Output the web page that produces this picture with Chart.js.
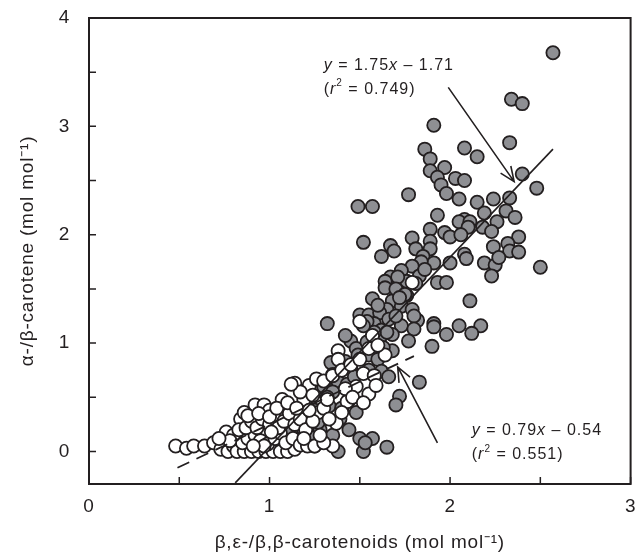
<!DOCTYPE html>
<html>
<head>
<meta charset="utf-8">
<script src="https://cdn.jsdelivr.net/npm/chart.js@4"></script>
<style>
  html, body { margin: 0; padding: 0; background: #fff; }
  #wrap { width: 639px; height: 556px; }
</style>
</head>
<body>
<div id="wrap"><canvas id="carChart" width="639" height="556"></canvas></div>
<script>
// x = β,ε-/β,β-carotenoids, y = α-/β-carotene  (mol mol-1)
var grayPoints = [
  [2.57,3.68],[2.34,3.25],[2.40,3.21],[1.91,3.01],[2.33,2.85],[1.86,2.79],[2.08,2.80],[2.15,2.72],
  [1.89,2.70],[1.89,2.59],[1.97,2.62],[1.93,2.53],[2.03,2.52],[2.08,2.50],[1.95,2.46],[2.40,2.56],
  [2.48,2.43],[1.98,2.38],[1.77,2.37],[2.05,2.33],[2.24,2.33],[2.33,2.34],[2.15,2.30],[1.49,2.26],
  [1.57,2.26],[2.19,2.20],[2.31,2.22],[2.36,2.16],[1.93,2.18],[2.08,2.14],[2.05,2.12],[2.11,2.12],
  [2.26,2.12],[2.10,2.07],[2.18,2.07],[1.89,2.05],[1.79,1.97],[1.97,2.02],[2.00,1.98],[2.06,2.00],
  [2.38,1.98],[2.23,2.03],[1.52,1.93],[1.89,1.94],[1.81,1.87],[1.89,1.87],[1.67,1.90],[1.69,1.85],
  [2.24,1.89],[2.32,1.92],[2.33,1.85],[2.38,1.84],[2.08,1.82],[2.09,1.78],[1.85,1.80],[1.91,1.74],
  [1.84,1.75],[1.62,1.80],[2.00,1.74],[2.19,1.74],[2.25,1.72],[2.27,1.79],[2.50,1.70],[2.23,1.62],
  [1.79,1.71],[1.73,1.67],[1.76,1.57],[1.67,1.61],[1.64,1.57],[1.71,1.61],[1.93,1.56],[1.98,1.56],
  [1.64,1.51],[2.11,1.39],[1.57,1.41],[1.68,1.39],[1.76,1.44],[1.73,1.34],[1.65,1.31],[1.79,1.31],
  [1.82,1.21],[1.80,1.25],[1.50,1.26],[1.55,1.26],[1.61,1.28],[1.32,1.18],[1.91,1.18],[1.91,1.15],
  [2.05,1.16],[2.17,1.16],[1.98,1.08],[2.12,1.09],[1.73,1.16],[1.80,1.13],[1.77,1.02],[1.90,0.97],
  [1.68,0.93],[1.70,1.50],[1.75,1.45],[1.83,1.62],[1.86,1.68],[1.81,1.55],[1.72,1.42],[1.60,1.35],
  [1.66,1.22],[1.70,1.25],[1.58,1.18],[1.62,1.12],[1.68,1.08],[1.54,1.20],
  [1.45,1.02],[1.42,1.07],[1.48,0.95],[1.49,0.89],[1.55,0.89],[1.54,1.01],[1.61,1.04],[1.63,0.96],
  [1.65,1.10],[1.58,1.10],[1.52,1.16],[1.38,0.85],[1.34,0.82],[1.42,0.83],[1.45,0.77],[1.35,0.71],
  [1.38,0.64],[1.43,0.62],[1.47,0.69],[1.55,0.75],[1.60,0.85],[1.62,0.74],[1.66,0.69],[1.83,0.64],
  [1.72,0.51],[1.70,0.43],[1.44,0.47],[1.48,0.36],[1.44,0.20],[1.50,0.12],[1.57,0.12],[1.65,0.04],
  [1.38,0.00],[1.52,0.00],[1.53,0.08],[1.30,0.33],[1.28,0.20],[1.33,0.42],[1.26,0.56],[1.30,0.60],
  [1.35,0.55],[1.40,0.40],[1.39,0.30],[1.32,0.50],[1.22,0.45],[1.20,0.30],[1.18,0.22],[1.15,0.28],
  [1.12,0.20],[1.25,0.38],[1.27,0.27],[1.23,0.13],[1.10,0.10],[1.30,0.10],[1.35,0.15],[1.25,0.05]
];
var whitePoints = [
  [0.48,0.05],[0.54,0.03],[0.58,0.05],[0.64,0.05],[0.69,0.08],[0.75,0.11],[0.76,0.18],[0.73,0.02],
  [0.77,0.00],[0.80,0.05],[0.84,0.30],[0.86,0.36],[0.92,0.43],[0.97,0.43],[1.00,0.38],[1.07,0.48],
  [1.14,0.63],[1.19,0.48],[1.22,0.61],[1.26,0.67],[1.27,0.36],[1.37,0.26],[1.35,0.05],[1.43,0.46],
  [1.38,0.93],[1.38,0.85],[1.50,1.20],[1.57,1.07],[1.52,0.72],[1.58,0.70],[1.55,0.53],[1.59,0.61],
  [1.64,0.89],[1.79,1.56],
  [0.82,0.00],[0.86,0.00],[0.90,0.00],[0.94,0.00],[0.98,0.00],[1.02,0.00],[1.06,0.00],[1.10,0.00],
  [1.14,0.02],[0.85,0.08],[0.88,0.12],[0.92,0.15],[0.95,0.10],[0.99,0.07],[1.03,0.12],[1.06,0.17],
  [1.09,0.08],[1.13,0.12],[1.17,0.06],[1.21,0.05],[1.25,0.05],[1.30,0.08],[0.80,0.15],[0.83,0.20],
  [0.87,0.22],[0.90,0.28],[0.93,0.22],[0.96,0.30],[1.00,0.25],[1.03,0.30],[1.05,0.22],[1.08,0.28],
  [1.11,0.35],[1.14,0.25],[1.17,0.30],[1.20,0.20],[1.24,0.28],[0.88,0.33],[0.94,0.35],[1.00,0.32],
  [1.04,0.40],[1.10,0.45],[1.15,0.40],[1.22,0.38],[1.30,0.40],[1.33,0.30],[1.40,0.36],[1.17,0.55],
  [1.12,0.62],[1.24,0.52],[1.30,0.65],[1.35,0.70],[1.40,0.75],[1.45,0.80],[1.48,0.60],[1.50,0.85],
  [1.55,0.95],[1.60,0.98],[1.42,0.58],[1.46,0.50],[1.52,0.45],[1.32,0.48],[0.97,0.05],[1.01,0.18],
  [0.91,0.05],[1.19,0.12],[1.28,0.15],[0.78,0.10],[0.72,0.12]
];
// fitted lines, end points
var grayFit = [[0.81,-0.29],[2.57,2.79]];
var whiteFit = [[0.49,-0.15],[1.80,0.88]];

var xTicks = [0, 0.5, 1, 1.5, 2, 2.5, 3];
var yTicks = [0, 0.5, 1, 1.5, 2, 2.5, 3, 3.5, 4];

var grayEq = ["y = 1.75x \u2013 1.71", "(r2 = 0.749)"];
var whiteEq = ["y = 0.79x \u2013 0.54", "(r2 = 0.551)"];

function toXY(arr) {
  return arr.map(function (p) { return { x: p[0], y: p[1] }; });
}

var FONT = "'Liberation Sans', Arial, sans-serif";

// wider tracking for all text, like the printed figure
var spacingPlugin = {
  id: 'spacing',
  beforeDraw: function (chart) { chart.ctx.letterSpacing = '0.8px'; }
};

// box, inward ticks, arrows and equations
var decorPlugin = {
  id: 'decor',
  afterDatasetsDraw: function (chart) {
    var ctx = chart.ctx, a = chart.chartArea;
    var xs = chart.scales.x, ys = chart.scales.y;
    ctx.save();
    ctx.strokeStyle = '#231f20';
    ctx.lineWidth = 2;
    ctx.strokeRect(a.left, a.top, a.right - a.left, a.bottom - a.top);
    ctx.lineWidth = 1.5;
    ctx.beginPath();
    xTicks.forEach(function (v) {
      var px = xs.getPixelForValue(v);
      ctx.moveTo(px, a.bottom); ctx.lineTo(px, a.bottom - 7);
    });
    yTicks.forEach(function (v) {
      var py = ys.getPixelForValue(v);
      ctx.moveTo(a.left, py); ctx.lineTo(a.left + 7, py);
    });
    ctx.stroke();

    function arrow(x0, y0, x1, y1) {
      var p0x = xs.getPixelForValue(x0), p0y = ys.getPixelForValue(y0);
      var p1x = xs.getPixelForValue(x1), p1y = ys.getPixelForValue(y1);
      var ang = Math.atan2(p1y - p0y, p1x - p0x);
      ctx.beginPath();
      ctx.moveTo(p0x, p0y); ctx.lineTo(p1x, p1y);
      ctx.moveTo(p1x - 16 * Math.cos(ang - 0.4), p1y - 16 * Math.sin(ang - 0.4));
      ctx.lineTo(p1x, p1y);
      ctx.lineTo(p1x - 16 * Math.cos(ang + 0.4), p1y - 16 * Math.sin(ang + 0.4));
      ctx.stroke();
    }
    ctx.lineWidth = 1.6;
    arrow(1.99, 3.36, 2.355, 2.49);
    arrow(1.93, 0.08, 1.71, 0.78);

    function eq(lines, x, y) {
      var px = xs.getPixelForValue(x), py = ys.getPixelForValue(y);
      ctx.fillStyle = '#231f20';
      ctx.textBaseline = 'middle';
      ctx.textAlign = 'left';
      ctx.letterSpacing = '1px';
      var l1 = lines[0];
      var parts = [['y', true], [l1.slice(1, l1.indexOf('x')), false], ['x', true], [l1.slice(l1.indexOf('x') + 1), false]];
      var cx = px;
      parts.forEach(function (pt) {
        ctx.font = (pt[1] ? 'italic ' : '') + '16px ' + FONT;
        ctx.fillText(pt[0], cx, py);
        cx += ctx.measureText(pt[0]).width;
      });
      var l2 = lines[1];
      var py2 = py + 24;
      cx = px;
      ctx.font = '16px ' + FONT;
      ctx.fillText('(', cx, py2); cx += ctx.measureText('(').width;
      ctx.font = 'italic 16px ' + FONT;
      ctx.fillText('r', cx, py2); cx += ctx.measureText('r').width;
      ctx.font = '10px ' + FONT;
      ctx.fillText('2', cx, py2 - 6); cx += ctx.measureText('2').width;
      ctx.font = '16px ' + FONT;
      ctx.fillText(l2.slice(3), cx, py2);
    }
    eq(grayEq, 1.30, 3.56);
    eq(whiteEq, 2.12, 0.19);
    ctx.restore();
  }
};

var ctx = document.getElementById('carChart').getContext('2d');
var scatterChart = new Chart(ctx, {
  type: 'scatter',
  data: {
    datasets: [{
      label: 'fit gray',
      type: 'line',
      data: toXY(grayFit),
      borderColor: '#231f20',
      borderWidth: 1.6,
      pointRadius: 0,
      fill: false,
      order: 0
    }, {
      label: 'fit white',
      type: 'line',
      data: toXY(whiteFit),
      borderColor: '#231f20',
      borderWidth: 1.8,
      borderDash: [13, 8],
      pointRadius: 0,
      fill: false,
      order: 0
    }, {
      label: 'white',
      data: toXY(whitePoints),
      backgroundColor: '#ffffff',
      borderColor: '#231f20',
      borderWidth: 1.8,
      pointRadius: 6.6,
      order: 1
    }, {
      label: 'gray',
      data: toXY(grayPoints),
      backgroundColor: '#8e8f93',
      borderColor: '#231f20',
      borderWidth: 1.8,
      pointRadius: 6.6,
      order: 2
    }]
  },
  options: {
    responsive: false,
    animation: false,
    events: [],
    layout: { padding: { top: 18, right: 8, left: 0, bottom: 0 } },
    plugins: { legend: { display: false }, tooltip: { enabled: false } },
    scales: {
      x: {
        type: 'linear',
        min: 0, max: 3,
        afterBuildTicks: function (s) { s.ticks = xTicks.map(function (v) { return { value: v }; }); },
        afterFit: function (s) { s.height = 72; s.paddingLeft = 0; s.paddingRight = 0; },
        grid: { display: false, drawTicks: false },
        border: { display: false },
        ticks: {
          color: '#231f20',
          padding: 11,
          maxRotation: 0,
          font: { family: FONT, size: 19 },
          callback: function (v) { return Number.isInteger(v) ? String(v) : ''; }
        },
        title: {
          display: true,
          text: '\u03b2,\u03b5-/\u03b2,\u03b2-carotenoids (mol mol\u207b\u00b9)',
          color: '#231f20',
          font: { family: FONT, size: 19 },
          padding: { top: 0, bottom: 2 }
        }
      },
      y: {
        type: 'linear',
        min: -0.3, max: 4,
        afterBuildTicks: function (s) { s.ticks = yTicks.map(function (v) { return { value: v }; }); },
        afterFit: function (s) { s.width = 89; s.paddingTop = 0; s.paddingBottom = 0; },
        grid: { display: false, drawTicks: false },
        border: { display: false },
        ticks: {
          color: '#231f20',
          padding: 19,
          font: { family: FONT, size: 19 },
          callback: function (v) { return Number.isInteger(v) ? String(v) : ''; }
        },
        title: {
          display: true,
          text: '\u03b1-/\u03b2-carotene (mol mol\u207b\u00b9)',
          color: '#231f20',
          font: { family: FONT, size: 19 },
          padding: { top: 16, bottom: 0 }
        }
      }
    }
  },
  plugins: [spacingPlugin, decorPlugin]
});
</script>
</body>
</html>
